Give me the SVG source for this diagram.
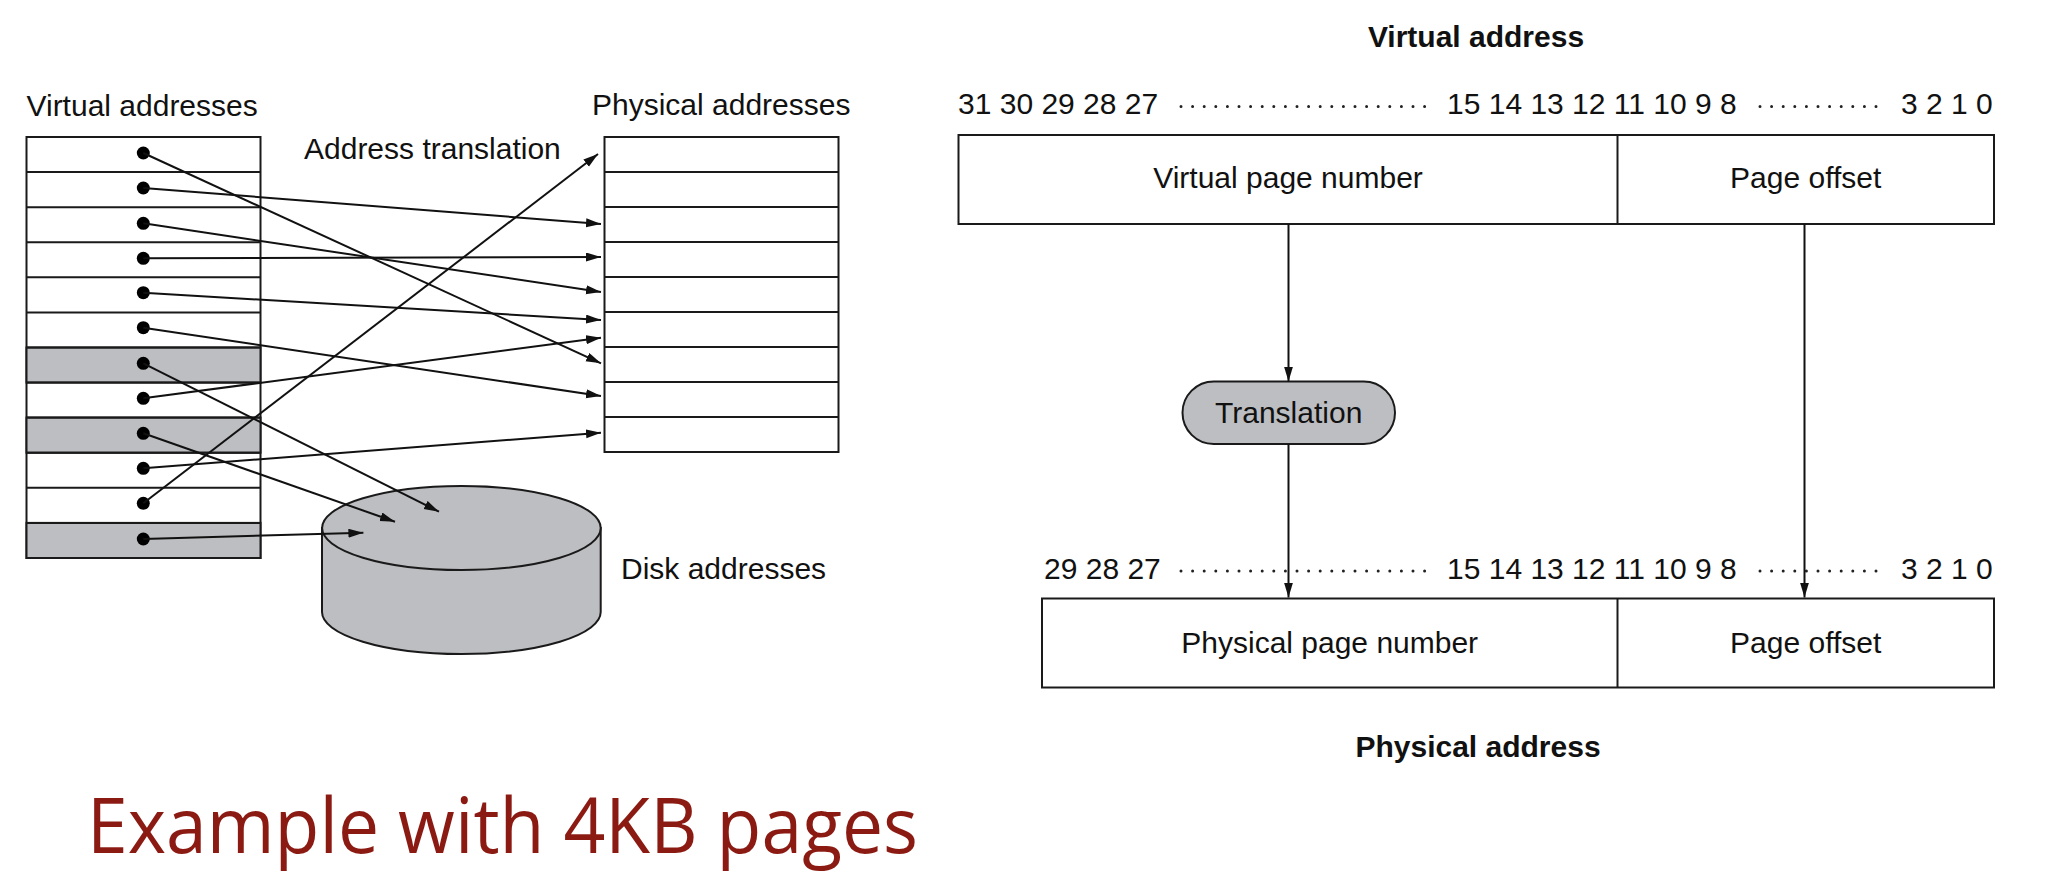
<svg xmlns="http://www.w3.org/2000/svg" width="2050" height="888" viewBox="0 0 2050 888">
<defs>
<style>
.t{font-family:"Liberation Sans",Arial,sans-serif;font-size:30px;fill:#111}
.b{font-family:"Liberation Sans",Arial,sans-serif;font-size:30px;font-weight:bold;fill:#111}
.m{text-anchor:middle}
.box{fill:#fff;stroke:#1a1a1a;stroke-width:2}
.gray{fill:#bdbec1;stroke:#1a1a1a;stroke-width:2}
.ln{stroke:#1a1a1a;stroke-width:2;fill:none}
.con{stroke:#111;stroke-width:2;fill:none;marker-end:url(#ah)}
.dots{stroke:#222;stroke-width:3;stroke-linecap:round;stroke-dasharray:0 11.6;fill:none}
</style>
<marker id="ah" markerUnits="userSpaceOnUse" markerWidth="16" markerHeight="10" refX="15" refY="4.5" orient="auto">
<path d="M0,0 L15,4.5 L0,9 z" fill="#111"/>
</marker>
</defs>
<rect width="2050" height="888" fill="#fff"/>

<g id="labels-left">
<text class="t" x="26.5" y="116">Virtual addresses</text>
<text class="t" x="592" y="115">Physical addresses</text>
<text class="t" x="304" y="159">Address translation</text>
<text class="t" x="621" y="579">Disk addresses</text>
</g>

<g id="virtual-table">
<rect class="box" x="26.5" y="137" width="234" height="421"/>
<rect class="gray" x="26.5" y="347.5" width="234" height="35.1"/>
<rect class="gray" x="26.5" y="417.6" width="234" height="35.1"/>
<rect class="gray" x="26.5" y="522.9" width="234" height="35.1"/>
<path class="ln" d="M26.5,172.1H260.5M26.5,207.2H260.5M26.5,242.3H260.5M26.5,277.3H260.5M26.5,312.4H260.5M26.5,347.5H260.5M26.5,382.6H260.5M26.5,417.6H260.5M26.5,452.7H260.5M26.5,487.8H260.5M26.5,522.9H260.5"/>
<g fill="#000">
<circle cx="143.3" cy="153" r="6.5"/>
<circle cx="143.3" cy="188" r="6.5"/>
<circle cx="143.3" cy="223.3" r="6.5"/>
<circle cx="143.3" cy="258.3" r="6.5"/>
<circle cx="143.3" cy="292.7" r="6.5"/>
<circle cx="143.3" cy="327.7" r="6.5"/>
<circle cx="143.3" cy="363.3" r="6.5"/>
<circle cx="143.3" cy="398.3" r="6.5"/>
<circle cx="143.3" cy="433.3" r="6.5"/>
<circle cx="143.3" cy="468.3" r="6.5"/>
<circle cx="143.3" cy="503.3" r="6.5"/>
<circle cx="143.3" cy="539" r="6.5"/>
</g>
</g>

<g id="physical-table">
<rect class="box" x="604.5" y="137" width="234" height="315"/>
<path class="ln" d="M604.5,172H838.5M604.5,207H838.5M604.5,242H838.5M604.5,277H838.5M604.5,312H838.5M604.5,347H838.5M604.5,382H838.5M604.5,417H838.5"/>
</g>

<g id="disk">
<path class="gray" d="M322,528 L322,612 A139.3,42 0 0,0 600.7,612 L600.7,528 Z"/>
<ellipse class="gray" cx="461.4" cy="528" rx="139.3" ry="42"/>
</g>

<g id="virtual-address">
<text class="b m" x="1476" y="46.7">Virtual address</text>
<text class="t" x="958" y="114.3">31 30 29 28 27</text>
<path class="dots" d="M1181,106.5 H1424.7"/>
<text class="t" x="1447" y="114.3">15 14 13 12 11 10 9 8</text>
<path class="dots" d="M1760,106.5 H1876.1"/>
<text class="t" x="1901" y="114.3">3 2 1 0</text>
<rect class="box" x="958.5" y="135" width="1035.5" height="89"/>
<path class="ln" d="M1617.5,135V224"/>
<text class="t m" x="1288" y="188">Virtual page number</text>
<text class="t m" x="1805.7" y="188">Page offset</text>
</g>

<g id="translation">
<rect class="gray" x="1182.5" y="381.5" width="212.5" height="62.5" rx="31.25" ry="31.25"/>
<text class="t m" x="1288.7" y="422.7">Translation</text>
</g>

<g id="physical-address">
<text class="t" x="1044" y="579.3">29 28 27</text>
<path class="dots" d="M1181,571 H1424.7"/>
<text class="t" x="1447" y="579.3">15 14 13 12 11 10 9 8</text>
<path class="dots" d="M1760,571 H1876.1"/>
<text class="t" x="1901" y="579.3">3 2 1 0</text>
<rect class="box" x="1042" y="598.5" width="952" height="89"/>
<path class="ln" d="M1617.5,598.5V687.5"/>
<text class="t m" x="1329.7" y="652.5">Physical page number</text>
<text class="t m" x="1805.7" y="652.5">Page offset</text>
<text class="b m" x="1478" y="757">Physical address</text>
</g>

<g id="connectors">
<line class="con" x1="143.3" y1="153" x2="601" y2="363.3"/>
<line class="con" x1="143.3" y1="188" x2="601" y2="224"/>
<line class="con" x1="143.3" y1="223.3" x2="601" y2="292"/>
<line class="con" x1="143.3" y1="258.3" x2="601" y2="257"/>
<line class="con" x1="143.3" y1="292.7" x2="601" y2="320"/>
<line class="con" x1="143.3" y1="327.7" x2="601" y2="396"/>
<line class="con" x1="143.3" y1="363.3" x2="439" y2="511.7"/>
<line class="con" x1="143.3" y1="398.3" x2="601" y2="337.7"/>
<line class="con" x1="143.3" y1="433.3" x2="395" y2="521.7"/>
<line class="con" x1="143.3" y1="468.3" x2="601" y2="432.7"/>
<line class="con" x1="143.3" y1="503.3" x2="598" y2="154"/>
<line class="con" x1="143.3" y1="539" x2="363.4" y2="532.7"/>
<line class="con" x1="1288.5" y1="224" x2="1288.5" y2="381.5"/>
<line class="con" x1="1288.5" y1="444" x2="1288.5" y2="597.5"/>
<line class="con" x1="1804.5" y1="224" x2="1804.5" y2="597.5"/>
</g>

<text x="87" y="853.3" font-family="'Open Sans','Noto Sans',sans-serif" font-size="76" fill="#8b1a12" textLength="831" lengthAdjust="spacingAndGlyphs">Example with 4KB pages</text>
</svg>
